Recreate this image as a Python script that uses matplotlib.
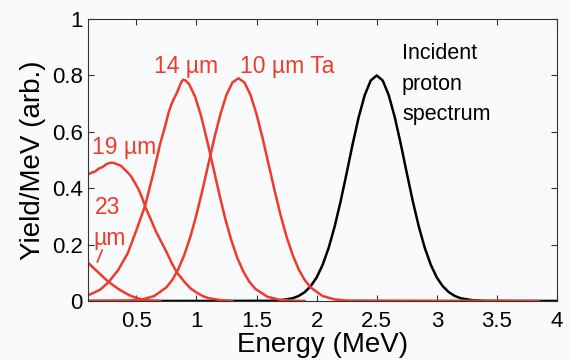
import numpy as np
import matplotlib
matplotlib.use("Agg")
from matplotlib import pyplot as plt

# incident proton spectrum (black)
inc_e = [0.1, 1.0, 1.6, 1.7, 1.8, 1.85, 1.9, 1.95, 2.0, 2.05, 2.1, 2.15, 2.2, 2.25, 2.3, 2.35,
         2.4, 2.45, 2.5, 2.55, 2.6, 2.65, 2.7, 2.75, 2.8, 2.85, 2.9, 2.95, 3.0, 3.05,
         3.1, 3.15, 3.2, 3.3, 3.4, 3.6, 4.0]
inc_y = [0.0, 0.0, 0.0005, 0.0024, 0.0095, 0.0175, 0.031, 0.052, 0.083, 0.128, 0.188, 0.264,
         0.354, 0.454, 0.557, 0.652, 0.730, 0.782, 0.800, 0.782, 0.730, 0.652, 0.557,
         0.454, 0.354, 0.264, 0.188, 0.128, 0.083, 0.052, 0.031, 0.0175, 0.0095, 0.0024,
         0.0005, 0.0, 0.0]

# 10 um Ta
ta10_e = [0.1, 0.45, 0.55, 0.65, 0.75, 0.8, 0.85, 0.9, 0.95, 1.0, 1.05, 1.1, 1.15, 1.2, 1.25,
          1.3, 1.35, 1.4, 1.45, 1.5, 1.55, 1.6, 1.65, 1.7, 1.75, 1.8, 1.85, 1.9, 1.95,
          2.05, 2.15, 2.25, 3.85]
ta10_y = [0.0, 0.0015, 0.0055, 0.0175, 0.048, 0.075, 0.113, 0.164, 0.228, 0.305, 0.393, 0.486,
          0.579, 0.663, 0.731, 0.775, 0.790, 0.775, 0.731, 0.663, 0.579, 0.486, 0.393,
          0.305, 0.228, 0.164, 0.113, 0.075, 0.048, 0.0175, 0.0055, 0.0015, 0.0]

# 14 um
al14_e = [0.1, 0.2, 0.27, 0.35, 0.43, 0.5, 0.575, 0.64, 0.70, 0.74, 0.77, 0.79, 0.81, 0.84,
          0.86, 0.875, 0.89, 0.91, 0.94, 0.99, 1.04, 1.09, 1.14, 1.19, 1.24, 1.29, 1.34, 1.39,
          1.44, 1.49, 1.59, 1.69, 1.79, 1.9]
al14_y = [0.02, 0.04, 0.067, 0.11, 0.17, 0.25, 0.34, 0.45, 0.56, 0.62, 0.67, 0.695, 0.715, 0.74,
          0.762, 0.777, 0.785, 0.782, 0.769, 0.724, 0.655, 0.568, 0.474, 0.380, 0.292, 0.216,
          0.153, 0.105, 0.068, 0.043, 0.015, 0.0045, 0.001, 0.0]

# 19 um
al19_e = [0.1, 0.13, 0.16, 0.19, 0.22, 0.25, 0.28, 0.31, 0.34, 0.37, 0.40, 0.43, 0.46, 0.49,
          0.52, 0.55, 0.575, 0.62, 0.66, 0.70, 0.75, 0.80, 0.84, 0.90, 0.95, 1.0, 1.05,
          1.1, 1.2, 1.3]
al19_y = [0.45, 0.455, 0.46, 0.47, 0.475, 0.485, 0.49, 0.49, 0.485, 0.48, 0.468, 0.455, 0.44,
          0.418, 0.395, 0.365, 0.334, 0.29, 0.25, 0.216, 0.175, 0.13, 0.10, 0.068, 0.045,
          0.03, 0.018, 0.01, 0.003, 0.0]

# 23 um
al23_e = [0.1, 0.15, 0.2, 0.25, 0.3, 0.35, 0.4, 0.45, 0.5, 0.55, 0.6, 0.7]
al23_y = [0.135, 0.115, 0.095, 0.075, 0.058, 0.043, 0.03, 0.019, 0.011, 0.005, 0.002, 0.0]

xticks = [0.5, 1, 1.5, 2, 2.5, 3, 3.5, 4]
xticklabels = ['0.5', '1', '1.5', '2', '2.5', '3', '3.5', '4']
yticks = [0, 0.2, 0.4, 0.6, 0.8, 1]
yticklabels = ['0', '0.2', '0.4', '0.6', '0.8', '1']

red = '#ee3b2b'
bg = '#f9fafc'

plt.rcParams['font.family'] = ['Liberation Sans', 'DejaVu Sans']

fig = plt.figure(figsize=(5.69, 3.6), dpi=100, facecolor=bg)
ax = fig.add_axes([0.155, 0.164, 0.824, 0.783], facecolor=bg)

ax.plot(inc_e, inc_y, color='black', lw=1.8)
for e, y in [(ta10_e, ta10_y), (al14_e, al14_y), (al19_e, al19_y), (al23_e, al23_y)]:
  ax.plot(e, y, color=red, lw=1.8)

ax.set_xlim(0.1, 4)
ax.set_ylim(0, 1)
ax.set_xticks(xticks)
ax.set_xticklabels(xticklabels)
ax.set_yticks(yticks)
ax.set_yticklabels(yticklabels)
ax.tick_params(direction='in', top=True, right=True, labelsize=16, length=4,
               color='#333333')
ax.tick_params(axis='x', pad=7)
ax.tick_params(axis='y', pad=4)
for s in ax.spines.values():
  s.set_color('#333333')
  s.set_linewidth(0.8)

ax.set_xlabel('Energy (MeV)', fontsize=20, labelpad=0)
ax.set_ylabel('Yield/MeV (arb.)', fontsize=20, labelpad=4)

fs = 16.5
ax.text(0.65, 0.83, '14 µm', color=red, fontsize=fs, va='center')
ax.text(1.36, 0.83, '10 µm Ta', color=red, fontsize=fs, va='center')
ax.text(0.13, 0.543, '19 µm', color=red, fontsize=fs, va='center')
ax.text(0.155, 0.333, '23', color=red, fontsize=fs, va='center')
ax.text(0.14, 0.223, 'µm', color=red, fontsize=fs, va='center')
ax.annotate('', xy=(0.167, 0.128), xytext=(0.225, 0.19),
            arrowprops=dict(arrowstyle='-', color=red, lw=1.2))
ax.text(2.71, 0.915, 'Incident\nproton\nspectrum', color='black', fontsize=15.5,
        va='top', linespacing=1.6)

fig.savefig('out.png', dpi=100, facecolor=bg)
